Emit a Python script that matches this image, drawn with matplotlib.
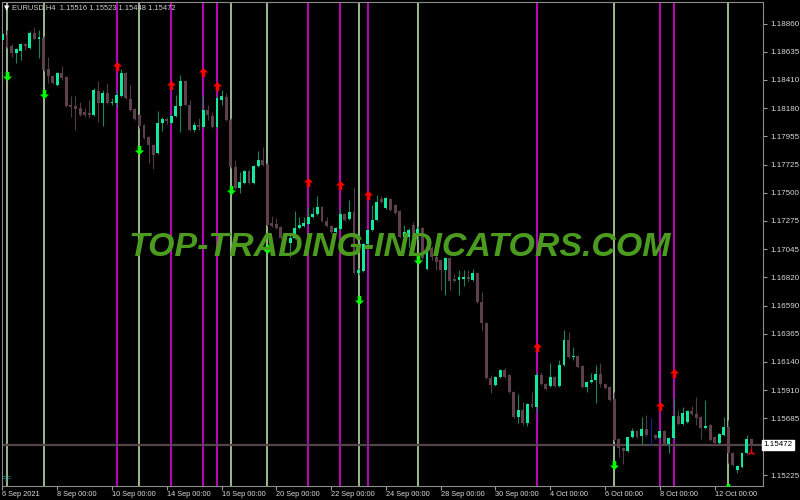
import matplotlib
matplotlib.use("Agg")
import matplotlib.pyplot as plt
import numpy as np
from matplotlib.path import Path

# EURUSD H4 candles (bar 0 = 6 Sep 2021 00:00)
opens = [
    1.18731, 1.18771, 1.18683, 1.18626, 1.18642, 1.18699, 1.18666, 1.18787, 1.18739, 1.18747,
    1.18497, 1.18441, 1.18368, 1.18465, 1.18433, 1.18207, 1.18199, 1.18183, 1.18151, 1.18143,
    1.18127, 1.18320, 1.18223, 1.18304, 1.18223, 1.18223, 1.18280, 1.18465, 1.18256, 1.18175,
    1.18127, 1.18046, 1.17950, 1.17885, 1.17821, 1.18062, 1.18095, 1.18062, 1.18119, 1.18199,
    1.18401, 1.18207, 1.18006, 1.18046, 1.18030, 1.18167, 1.18119, 1.18030, 1.18248, 1.18272,
    1.18087, 1.17708, 1.17539, 1.17579, 1.17676, 1.17579, 1.17716, 1.17764, 1.17732, 1.17257,
    1.17249, 1.17225, 1.17152, 1.17096, 1.17136, 1.17217, 1.17233, 1.17249, 1.17305, 1.17329,
    1.17386, 1.17273, 1.17233, 1.17185, 1.17209, 1.17329, 1.17289, 1.17346, 1.16854, 1.16870,
    1.17088, 1.17201, 1.17281, 1.17450, 1.17378, 1.17450, 1.17402, 1.17354, 1.17144, 1.17144,
    1.17241, 1.17160, 1.17217, 1.16887, 1.17056, 1.16983, 1.16959, 1.16878, 1.16975, 1.16806,
    1.16798, 1.16806, 1.16822, 1.16798, 1.16854, 1.16621, 1.16452, 1.16009, 1.15952, 1.16017,
    1.16073, 1.16033, 1.15896, 1.15695, 1.15751, 1.15646, 1.15799, 1.15775, 1.16033, 1.15960,
    1.15944, 1.16017, 1.15944, 1.16113, 1.16315, 1.16178, 1.16186, 1.16105, 1.15936, 1.15976,
    1.15992, 1.16041, 1.15960, 1.15936, 1.15839, 1.15517, 1.15445, 1.15421, 1.15533, 1.15582,
    1.15541, 1.15598, 1.15550, 1.15550, 1.15525, 1.15582, 1.15477, 1.15525, 1.15703, 1.15638,
    1.15654, 1.15743, 1.15719, 1.15695, 1.15606, 1.15630, 1.15533, 1.15485, 1.15550, 1.15614,
    1.15404, 1.15268, 1.15292, 1.15404, 1.15516,
]
highs = [
    1.18811, 1.18811, 1.18699, 1.18666, 1.18707, 1.18707, 1.18803, 1.18836, 1.18811, 1.18763,
    1.18594, 1.18449, 1.18473, 1.18521, 1.18441, 1.18280, 1.18280, 1.18231, 1.18183, 1.18248,
    1.18344, 1.18401, 1.18328, 1.18385, 1.18264, 1.18328, 1.18497, 1.18473, 1.18368, 1.18183,
    1.18135, 1.18054, 1.17958, 1.17893, 1.18159, 1.18111, 1.18111, 1.18135, 1.18288, 1.18449,
    1.18409, 1.18248, 1.18070, 1.18103, 1.18288, 1.18207, 1.18151, 1.18280, 1.18328, 1.18304,
    1.18103, 1.17764, 1.17668, 1.17684, 1.17684, 1.17724, 1.17837, 1.17869, 1.17740, 1.17313,
    1.17297, 1.17233, 1.17160, 1.17160, 1.17354, 1.17305, 1.17305, 1.17386, 1.17386, 1.17474,
    1.17394, 1.17305, 1.17241, 1.17225, 1.17378, 1.17338, 1.17442, 1.17547, 1.16895, 1.17096,
    1.17209, 1.17402, 1.17482, 1.17474, 1.17466, 1.17458, 1.17410, 1.17362, 1.17241, 1.17217,
    1.17265, 1.17233, 1.17225, 1.17080, 1.17072, 1.17040, 1.16967, 1.16983, 1.16983, 1.16846,
    1.16878, 1.16878, 1.16878, 1.16887, 1.16862, 1.16701, 1.16460, 1.16033, 1.16025, 1.16081,
    1.16089, 1.16041, 1.15904, 1.15880, 1.15815, 1.15807, 1.15896, 1.16057, 1.16057, 1.15968,
    1.16129, 1.16025, 1.16154, 1.16395, 1.16379, 1.16258, 1.16194, 1.16113, 1.15984, 1.16049,
    1.16113, 1.16129, 1.15968, 1.15944, 1.15896, 1.15525, 1.15453, 1.15541, 1.15606, 1.15590,
    1.15695, 1.15711, 1.15686, 1.15558, 1.15590, 1.15590, 1.15533, 1.15848, 1.15751, 1.15775,
    1.15751, 1.15783, 1.15856, 1.15703, 1.15831, 1.15638, 1.15541, 1.15566, 1.15695, 1.15670,
    1.15413, 1.15308, 1.15413, 1.15550, 1.15523,
]
lows = [
    1.18699, 1.18666, 1.18594, 1.18546, 1.18570, 1.18650, 1.18658, 1.18731, 1.18586, 1.18481,
    1.18385, 1.18377, 1.18360, 1.18409, 1.18191, 1.18111, 1.18006, 1.18119, 1.18111, 1.18103,
    1.18119, 1.18070, 1.18038, 1.18215, 1.18207, 1.18183, 1.18272, 1.18256, 1.18159, 1.18087,
    1.18022, 1.17933, 1.17740, 1.17692, 1.17813, 1.17998, 1.18054, 1.18054, 1.18111, 1.17990,
    1.18199, 1.17998, 1.17990, 1.18006, 1.18022, 1.18087, 1.18022, 1.18022, 1.18207, 1.18078,
    1.17700, 1.17531, 1.17499, 1.17571, 1.17571, 1.17571, 1.17708, 1.17716, 1.17233, 1.17225,
    1.17209, 1.17128, 1.17112, 1.16983, 1.17128, 1.17209, 1.17225, 1.17241, 1.17297, 1.17321,
    1.17265, 1.17225, 1.17176, 1.17176, 1.17201, 1.17273, 1.17281, 1.16846, 1.16838, 1.16862,
    1.17080, 1.17193, 1.17273, 1.17418, 1.17370, 1.17354, 1.17329, 1.17136, 1.17120, 1.17064,
    1.17080, 1.17120, 1.16959, 1.16878, 1.16959, 1.16878, 1.16717, 1.16677, 1.16717, 1.16782,
    1.16677, 1.16750, 1.16782, 1.16790, 1.16613, 1.16395, 1.16001, 1.15888, 1.15944, 1.16009,
    1.16009, 1.15888, 1.15686, 1.15646, 1.15630, 1.15622, 1.15767, 1.15727, 1.15952, 1.15912,
    1.15936, 1.15936, 1.15936, 1.16105, 1.16170, 1.16154, 1.16089, 1.15928, 1.15896, 1.15968,
    1.15807, 1.15936, 1.15920, 1.15823, 1.15501, 1.15372, 1.15316, 1.15413, 1.15525, 1.15525,
    1.15477, 1.15541, 1.15469, 1.15517, 1.15517, 1.15469, 1.15404, 1.15517, 1.15630, 1.15630,
    1.15646, 1.15711, 1.15630, 1.15517, 1.15598, 1.15501, 1.15477, 1.15477, 1.15541, 1.15324,
    1.15300, 1.15243, 1.15284, 1.15396, 1.15448,
]
closes = [
    1.18779, 1.18674, 1.18626, 1.18658, 1.18699, 1.18683, 1.18787, 1.18739, 1.18755, 1.18489,
    1.18441, 1.18385, 1.18465, 1.18425, 1.18199, 1.18191, 1.18175, 1.18127, 1.18127, 1.18127,
    1.18328, 1.18223, 1.18304, 1.18223, 1.18231, 1.18288, 1.18465, 1.18264, 1.18167, 1.18095,
    1.18038, 1.17942, 1.17885, 1.17805, 1.18062, 1.18095, 1.18078, 1.18119, 1.18199, 1.18401,
    1.18207, 1.18006, 1.18046, 1.18030, 1.18167, 1.18127, 1.18030, 1.18264, 1.18280, 1.18087,
    1.17708, 1.17539, 1.17587, 1.17676, 1.17579, 1.17716, 1.17764, 1.17724, 1.17241, 1.17233,
    1.17217, 1.17136, 1.17120, 1.17136, 1.17217, 1.17241, 1.17257, 1.17305, 1.17329, 1.17386,
    1.17273, 1.17233, 1.17185, 1.17217, 1.17329, 1.17281, 1.17346, 1.16854, 1.16878, 1.17088,
    1.17201, 1.17281, 1.17426, 1.17426, 1.17458, 1.17362, 1.17338, 1.17144, 1.17185, 1.17201,
    1.17144, 1.17209, 1.16975, 1.17064, 1.16983, 1.16943, 1.16878, 1.16975, 1.16790, 1.16790,
    1.16822, 1.16822, 1.16806, 1.16854, 1.16621, 1.16452, 1.16009, 1.15952, 1.16017, 1.16073,
    1.16017, 1.15896, 1.15695, 1.15751, 1.15646, 1.15799, 1.15775, 1.16033, 1.15960, 1.15920,
    1.16017, 1.15944, 1.16113, 1.16315, 1.16178, 1.16186, 1.16097, 1.15936, 1.15976, 1.15992,
    1.16041, 1.15960, 1.15928, 1.15831, 1.15509, 1.15445, 1.15421, 1.15533, 1.15582, 1.15533,
    1.15598, 1.15550, 1.15550, 1.15525, 1.15582, 1.15477, 1.15525, 1.15703, 1.15638, 1.15727,
    1.15743, 1.15719, 1.15686, 1.15606, 1.15622, 1.15509, 1.15485, 1.15558, 1.15614, 1.15404,
    1.15308, 1.15300, 1.15404, 1.15517, 1.15472,
]

# indicator signals: bar index and arrow price
up_bars = [25, 37, 44, 47, 67, 74, 80, 117, 144, 147]
up_marks = [1.18521, 1.18368, 1.18473, 1.18360, 1.17587, 1.17563, 1.17482, 1.16258, 1.15783, 1.16049]
down_bars = [1, 9, 30, 50, 58, 78, 91, 134, 159]
down_marks = [1.18441, 1.18296, 1.17845, 1.17523, 1.17048, 1.16637, 1.16959, 1.15308, 1.15123]

price_ticks = [1.18860, 1.18635, 1.18410, 1.18180, 1.17955, 1.17725, 1.17500, 1.17275,
               1.17045, 1.16820, 1.16590, 1.16365, 1.16140, 1.15910, 1.15685, 1.15225]
date_idx = [0, 12, 24, 36, 48, 60, 72, 84, 96, 108, 120, 132, 144, 156]
date_labels = ["6 Sep 2021", "8 Sep 00:00", "10 Sep 00:00", "14 Sep 00:00", "16 Sep 00:00",
               "20 Sep 00:00", "22 Sep 00:00", "24 Sep 00:00", "28 Sep 00:00", "30 Sep 00:00",
               "4 Oct 00:00", "6 Oct 00:00", "8 Oct 00:00", "12 Oct 00:00"]
last_price = 1.15472
header = "EURUSD,H4  1.15516 1.15523 1.15448 1.15472"

plt.rcParams["font.family"] = ["Liberation Sans", "DejaVu Sans"]

bull_body, bull_wick = "#12e8a0", "#15875a"
bear_body, bear_wick = "#5d3f4e", "#513945"

fig = plt.figure(figsize=(8, 5), dpi=100, facecolor="black")
ax = fig.add_axes([0.0025, 0.029, 0.95125, 0.967])
ax.set_facecolor("black")

x = np.arange(len(closes))
o, h, l, c = map(np.array, (opens, highs, lows, closes))
bull = c > o
bear = c < o
doji = c == o

# signal lines
ax.vlines(up_bars, 0, 1, transform=ax.get_xaxis_transform(), color="#cc00cc", lw=1.3, zorder=1)
ax.vlines(down_bars, 0, 1, transform=ax.get_xaxis_transform(), color="#c4ecb2", lw=1.1, zorder=1)

ax.axhline(last_price, color="#54454c", lw=1.6, zorder=1.5)

ax.vlines(x[bull], l[bull], h[bull], color=bull_wick, lw=0.8, zorder=2)
ax.vlines(x[bear], l[bear], h[bear], color=bear_wick, lw=0.8, zorder=2)
ax.vlines(x[doji], l[doji], h[doji], color="#1c1c90", lw=0.9, zorder=2)
ax.bar(x[bull], (c - o)[bull], bottom=o[bull], width=0.64, color=bull_body, lw=0, zorder=3)
ax.bar(x[bear], (o - c)[bear], bottom=c[bear], width=0.64, color=bear_body, lw=0, zorder=3)

up_path = Path([(0, 0.5), (0.5, 0.0), (0.2, 0.0), (0.2, -0.5), (-0.2, -0.5), (-0.2, 0.0),
                (-0.5, 0.0), (0, 0.5)], closed=True)
down_path = Path([(0, -0.5), (0.5, 0.0), (0.2, 0.0), (0.2, 0.5), (-0.2, 0.5), (-0.2, 0.0),
                  (-0.5, 0.0), (0, -0.5)], closed=True)
ax.plot(up_bars, up_marks, ls="none", marker=up_path, ms=6.5, color="#ff0000", mew=0, zorder=4)
ax.plot(down_bars, down_marks, ls="none", marker=down_path, ms=6.5, color="#00ff00", mew=0, zorder=4)
ax.plot([x[-1]], [1.15413], ls="none", marker="2", ms=6, color="#ff0000", mew=1, zorder=4)

ax.set_xlim(-0.1, 166.6)
ax.set_ylim(1.15143, 1.19037)

ax.yaxis.tick_right()
ax.set_yticks(price_ticks, [f"{v:.5f}" for v in price_ticks])
ax.set_xticks(date_idx, date_labels)
for t in ax.get_xticklabels():
    t.set_ha("left")
ax.tick_params(axis="y", length=3, width=0.8, color="#9a9a9a", labelcolor="#d8d8d8",
               labelsize=5.8, pad=2)
ax.tick_params(axis="x", length=3, width=0.8, color="#9a9a9a", labelcolor="#d8d8d8",
               labelsize=5.3, pad=1)
for s in ax.spines.values():
    s.set_color("#8c8c8c")
    s.set_linewidth(0.8)

ax.text(1.001, last_price, f"{last_price:.5f}", transform=ax.get_yaxis_transform(),
        ha="left", va="center", fontsize=5.8, color="black",
        bbox=dict(boxstyle="square,pad=0.2", fc="white", ec="white"))

fig.text(4 / 800, 1 - 8 / 500, "▼", fontsize=5, color="white", va="center",
         family="DejaVu Sans")
fig.text(12 / 800, 1 - 8 / 500, header, fontsize=5.4, color="#d0d0d0", va="center")
fig.text(2 / 800, 1 - 478 / 500, "=|=", fontsize=5, color="#2aa6a6", va="center")

fig.text(400 / 800, 1 - 248 / 500, "TOP-TRADING-INDICATORS.COM", ha="center", va="center",
         fontsize=24.4, fontweight="bold", style="italic", color="#4b9b1e", zorder=10)

fig.savefig("out.png", dpi=100, facecolor="black")
